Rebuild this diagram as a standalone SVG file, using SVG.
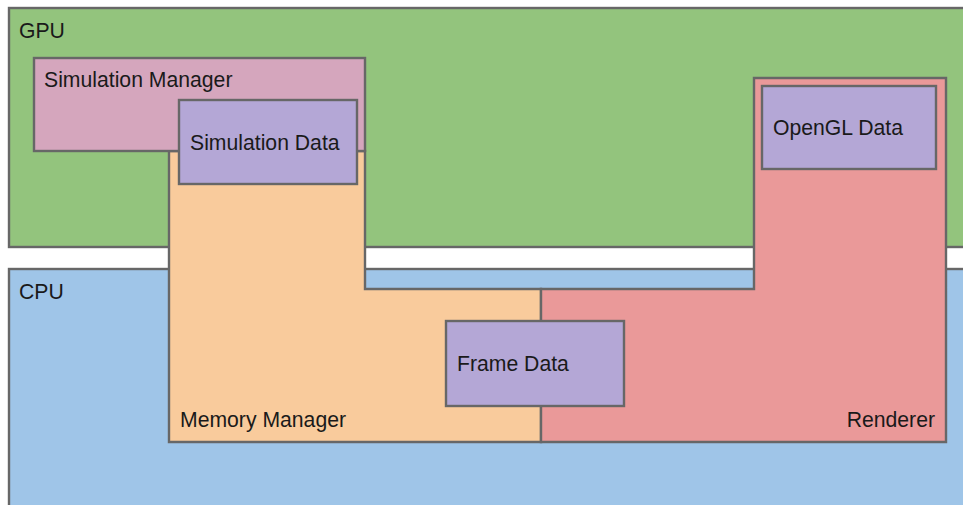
<svg xmlns="http://www.w3.org/2000/svg" width="963" height="505" viewBox="0 0 963 505">
  <style>
    .box { stroke: #676767; stroke-width: 2.4; stroke-linejoin: miter; }
    .gpu { fill: #93c47d; }
    .cpu { fill: #9fc5e8; }
    .sim { fill: #d5a6bd; }
    .data { fill: #b4a7d6; }
    .mem { fill: #f9cb9c; }
    .ren { fill: #ea9999; }
    .label { font-family: "Liberation Sans", Arial, sans-serif; font-size: 21.2px; fill: #1a1a1a; }
  </style>
  <rect width="963" height="505" fill="#ffffff"/>

  <g id="gpu">
    <rect class="box gpu" x="9" y="8" width="970" height="239"/>
    <text class="label" x="19" y="38">GPU</text>
  </g>

  <g id="cpu">
    <rect class="box cpu" x="9" y="269" width="970" height="250"/>
    <text class="label" x="19" y="299">CPU</text>
  </g>

  <g id="memory-manager">
    <polygon class="box mem" points="169,151 365,151 365,289 541,289 541,442 169,442"/>
    <text class="label" x="180" y="427">Memory Manager</text>
  </g>

  <g id="renderer">
    <polygon class="box ren" points="541,289 754,289 754,78 946,78 946,442 541,442"/>
    <text class="label" x="935" y="427" text-anchor="end">Renderer</text>
  </g>

  <g id="simulation-manager">
    <rect class="box sim" x="34" y="58" width="331" height="93"/>
    <text class="label" x="44" y="87">Simulation Manager</text>
  </g>

  <g id="simulation-data">
    <rect class="box data" x="179" y="100" width="178" height="84"/>
    <text class="label" x="190" y="150">Simulation Data</text>
  </g>

  <g id="opengl-data">
    <rect class="box data" x="762" y="86" width="174" height="83"/>
    <text class="label" x="773" y="135">OpenGL Data</text>
  </g>

  <g id="frame-data">
    <rect class="box data" x="446" y="321" width="178" height="85"/>
    <text class="label" x="457" y="371">Frame Data</text>
  </g>

  <g id="connectors"></g>
</svg>
